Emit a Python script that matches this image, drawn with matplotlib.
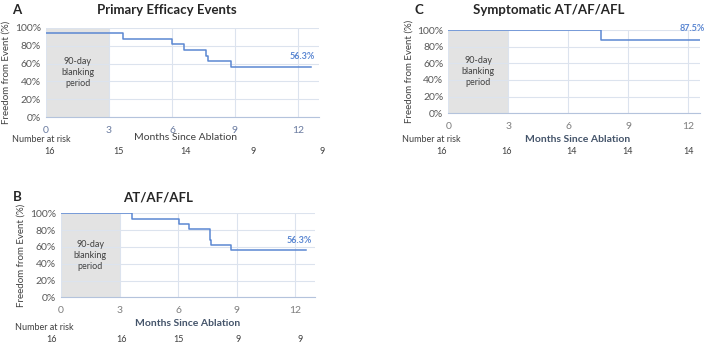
import matplotlib.pyplot as plt

plt.rcParams['font.family'] = ['Lato', 'DejaVu Sans']

# Kaplan-Meier style step data (months, freedom from event %)
a_months = [0, 3.65, 6.0, 6.57, 7.64, 7.73, 8.8, 12.6]
a_free = [93.75, 87.5, 81.25, 75.0, 68.75, 62.5, 56.25, 56.25]
a_risk = [16, 15, 14, 9, 9]

b_months = [0, 3.61, 6.05, 6.56, 7.62, 7.68, 8.72, 12.56]
b_free = [100, 93.75, 87.5, 81.25, 68.75, 62.5, 56.25, 56.25]
b_risk = [16, 16, 15, 9, 9]

c_months = [0, 7.63, 12.6]
c_free = [100, 87.5, 87.5]
c_risk = [16, 16, 14, 14, 14]

xticks = [0, 3, 6, 9, 12]
yticks = [0, 20, 40, 60, 80, 100]

W, H = 708, 345
fig = plt.figure(figsize=(W / 100, H / 100), dpi=100)

BLUE = '#5b87d2'
GRID = '#dce3ee'


def ax_at(x0, y0, x1, y1):
    # pixel box (top-left origin) -> axes
    return fig.add_axes([x0 / W, 1 - y1 / H, (x1 - x0) / W, (y1 - y0) / H])


def txt(x, y, s, **kw):
    kw.setdefault('ha', 'center')
    kw.setdefault('va', 'center')
    fig.text(x / W, 1 - y / H, s, **kw)


def panel(ax, months, free, xmax, label, label_y, xtick_color):
    ax.axvspan(0, 3, color='#e3e3e3', lw=0, zorder=0)
    ax.step(months, free, where='post', color=BLUE, lw=1.1, zorder=3)
    ax.set_xlim(0, xmax)
    ax.set_ylim(0, 100)
    ax.set_xticks(xticks)
    ax.set_yticks(yticks)
    ax.set_yticklabels([f'{v}%' for v in yticks])
    ax.grid(True, color=GRID, lw=0.8, zorder=1)
    ax.set_axisbelow(True)
    for s in ['top', 'right', 'left']:
        ax.spines[s].set_visible(False)
    ax.spines['bottom'].set_color('#b4c3dc')
    ax.tick_params(length=0, labelsize=7.5, colors='#595959')
    ax.tick_params(axis='x', colors=xtick_color, pad=6)
    ax.text(1.5, 50, '90-day\nblanking\nperiod', ha='center', va='center',
            fontsize=6.5, color='#404040', linespacing=1.3, zorder=4)
    ax.text(12.2, label_y, label, ha='center', va='center', fontsize=6.5,
            color=BLUE, fontweight='bold', zorder=4)
    ax.set_ylabel('Freedom from Event (%)', fontsize=7, color='#404040',
                  labelpad=3)


# Panel A
axA = ax_at(46, 27.7, 319, 117.3)
panel(axA, a_months, a_free, 13.0, '56.3%', 68, '#6a7ba0')
txt(167, 10, 'Primary Efficacy Events', fontsize=9.5, fontweight='bold', color='#262626')
txt(17, 10, 'A', fontsize=9.5, fontweight='bold', color='#262626')
txt(185, 138, 'Months Since Ablation', fontsize=7.5, color='#404040')
txt(12, 139, 'Number at risk', fontsize=6.5, color='#404040', ha='left')
for xp, n in zip([50, 118, 186, 253, 322], a_risk):
    txt(xp, 151, str(n), fontsize=6.5, color='#404040')

# Panel B
axB = ax_at(61, 213.3, 315, 297.3)
panel(axB, b_months, b_free, 13.0, '56.3%', 68, '#7f7f7f')
txt(158, 197, 'AT/AF/AFL', fontsize=9.5, fontweight='bold', color='#262626')
txt(17, 197, 'B', fontsize=9.5, fontweight='bold', color='#262626')
txt(188, 324, 'Months Since Ablation', fontsize=7.5, fontweight='bold', color='#44546A')
txt(15, 328, 'Number at risk', fontsize=6.5, color='#404040', ha='left')
for xp, n in zip([52, 122, 178, 238, 300], b_risk):
    txt(xp, 340, str(n), fontsize=6.5, color='#404040')

# Panel C
axC = ax_at(448.3, 30, 700, 113.3)
panel(axC, c_months, c_free, 12.6, '87.5%', 102, '#7f7f7f')
txt(549, 10, 'Symptomatic AT/AF/AFL', fontsize=9.5, fontweight='bold', color='#262626')
txt(419, 10, 'C', fontsize=9.5, fontweight='bold', color='#262626')
txt(578, 139, 'Months Since Ablation', fontsize=7.5, fontweight='bold', color='#44546A')
txt(402, 139, 'Number at risk', fontsize=6.5, color='#404040', ha='left')
for xp, n in zip([442, 507, 572, 628, 689], c_risk):
    txt(xp, 151, str(n), fontsize=6.5, color='#404040')

fig.savefig('out.png', dpi=100)
